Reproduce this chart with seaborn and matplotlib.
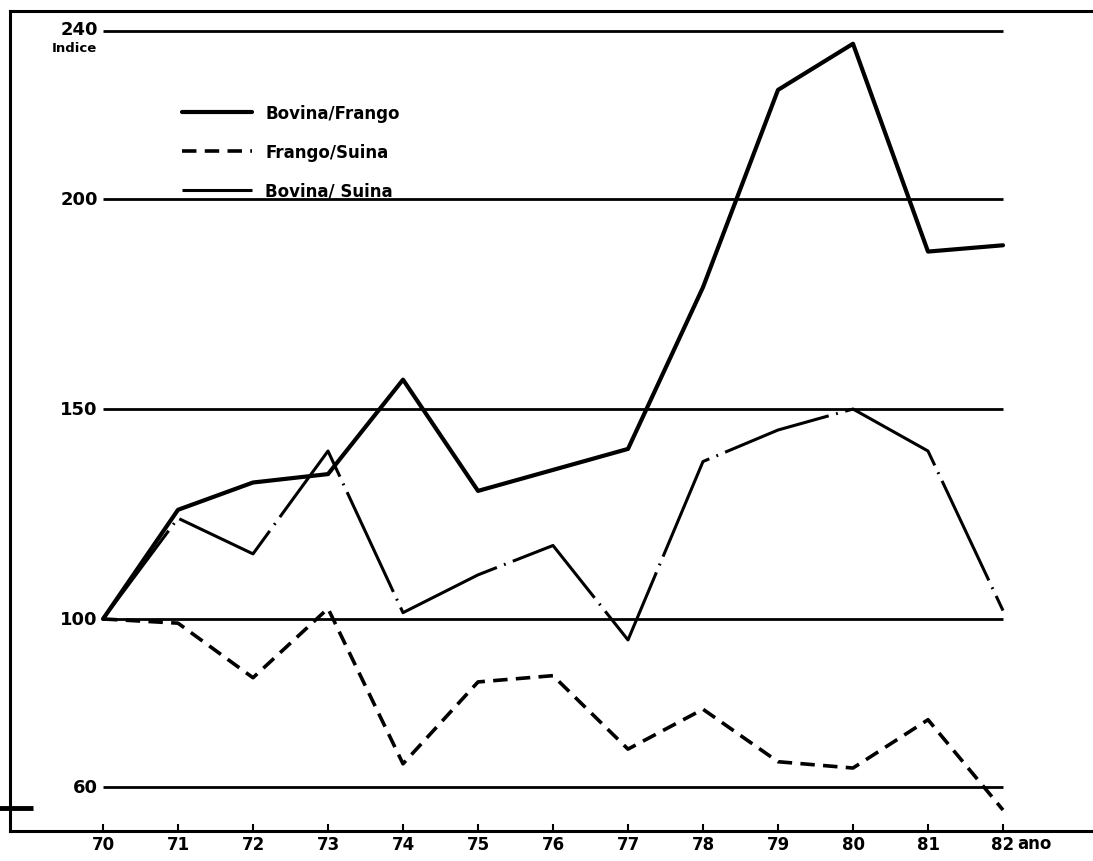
import matplotlib
matplotlib.use('Agg')
import matplotlib.pyplot as plt
import pandas as pd
import seaborn as sns

# values (index, 1970 = 100)
anos = [70, 71, 72, 73, 74, 75, 76, 77, 78, 79, 80, 81, 82]
bovina_frango = [100, 126, 132.5, 134.5, 157, 130.5, 135.5, 140.5, 179, 226, 237, 187.5, 189]
frango_suina = [100, 99, 86, 102.5, 65.5, 85, 86.5, 69, 78.5, 66, 64.5, 76, 54.5]
bovina_suina = [100, 124, 115.5, 140, 101.5, 110.5, 117.5, 95, 137.5, 145, 150, 140, 102]
series = ['Bovina/Frango', 'Frango/Suina', 'Bovina/ Suina']
y_ticks = [240, 200, 150, 100, 60]

# long form table for seaborn
df = pd.concat([
    pd.DataFrame({'ano': anos, 'indice': bovina_frango, 'serie': series[0]}),
    pd.DataFrame({'ano': anos, 'indice': frango_suina, 'serie': series[1]}),
    pd.DataFrame({'ano': anos, 'indice': bovina_suina, 'serie': series[2]}),
])

sns.set_style('white')
plt.rcParams['font.family'] = ['DejaVu Sans']
plt.rcParams['text.color'] = 'black'
plt.rcParams['xtick.color'] = 'black'

fig = plt.figure(figsize=(10.93, 8.62), dpi=100)
ax = fig.add_axes([0.00915, 0.0348, 0.99085, 0.9513])

# horizontal reference lines
for v in y_ticks:
    ax.hlines(v, 70, 82, color='black', lw=2, zorder=1)
    ax.text(69.93, v + (0.4 if v == 240 else 0), str(v), ha='right', va='center',
            fontsize=13, fontweight='bold')

sns.lineplot(data=df, x='ano', y='indice', style='serie', size='serie',
             sizes={series[0]: 3.0, series[1]: 2.6, series[2]: 2.2}, color='black',
             dashes={series[0]: '', series[1]: (4, 2.3), series[2]: (36, 2.5, 0.6, 2.5)},
             ax=ax, zorder=3)

ax.text(69.62, 236.0, 'Indice', ha='center', va='center', fontsize=9.5, fontweight='bold')

ax.set_xlim(68.76, 83.2)
ax.set_ylim(49.5, 244.8)
ax.set_xticks(anos)
ax.set_xticklabels([str(a) for a in anos], fontsize=12, fontweight='bold')
ax.text(82.42, -0.004, 'ano', transform=ax.get_xaxis_transform(), ha='center', va='top',
        fontsize=12, fontweight='bold')
ax.tick_params(axis='x', direction='in', length=5, width=1.5, pad=3, bottom=True)
ax.set_yticks([])
ax.set_xlabel('')
ax.set_ylabel('')

for s in ['left', 'top', 'bottom']:
    ax.spines[s].set_linewidth(2.2)
    ax.spines[s].set_color('black')
ax.spines['right'].set_visible(False)

# small mark on the left border
ax.hlines(55, 68.6, 69.07, color='black', lw=3.5, clip_on=False)

leg = ax.legend(loc='upper left', bbox_to_anchor=(0.145, 0.905), frameon=False,
                handlelength=4.2, fontsize=12, labelspacing=1.25, title=None)
for t in leg.get_texts():
    t.set_fontweight('bold')

fig.savefig('out.png', dpi=100)
